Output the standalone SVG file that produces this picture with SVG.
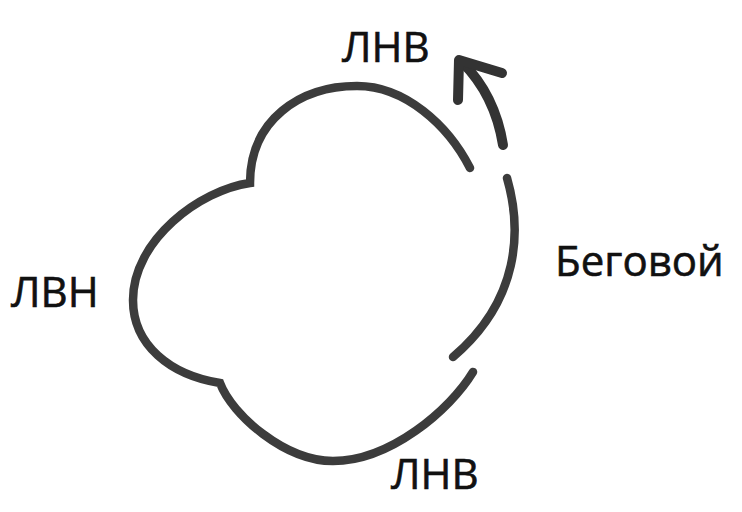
<svg xmlns="http://www.w3.org/2000/svg" width="742" height="512" viewBox="0 0 742 512">
<style>
.arc{fill:none;stroke:#3c3c3c;stroke-width:8.5;stroke-linecap:round;stroke-linejoin:miter}
.arr{fill:none;stroke:#333;stroke-width:10;stroke-linecap:round;stroke-linejoin:round}
.lbl{font-family:"Open Sans","Noto Sans","Liberation Sans",sans-serif;font-size:42px;fill:#111;stroke:#111;stroke-width:0.6}
</style>
<rect width="742" height="512" fill="#fff"/>
<g id="connectors">
<path id="lobes" class="arc" d="M470,168 C448,125 405,86 357,86 C300,86 250,120 250,183 C200,190 133,240 133,300 C133,345 170,375 220,383 C232,415 285,461 333,461 C390,461 450,410 473,372"/>
<path id="right-arc" class="arc" d="M507,178 C522,230 520,300 453,357"/>
<path id="arrow-shaft" class="arr" d="M503,145 Q495,95 462,62"/>
<path id="arrow-head" class="arr" d="M458,100 L459,60 L502,73"/>
</g>
<g id="label-top"><text class="lbl" x="342" y="62">ЛНВ</text></g>
<g id="label-left"><text class="lbl" x="11" y="307">ЛВН</text></g>
<g id="label-right"><text class="lbl" x="555" y="276">Беговой</text></g>
<g id="label-bottom"><text class="lbl" x="391" y="489">ЛНВ</text></g>
</svg>
